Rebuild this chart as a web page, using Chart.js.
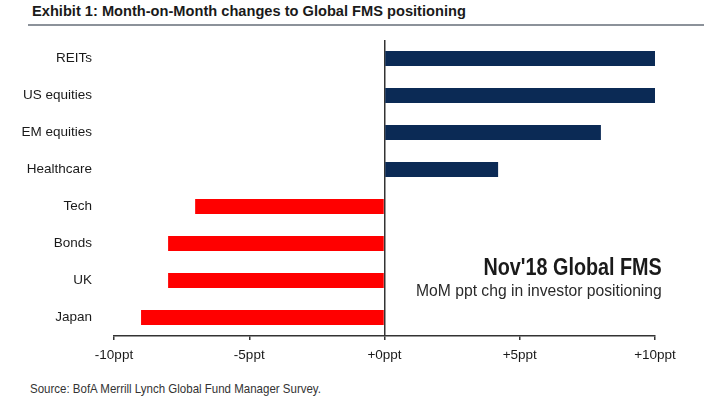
<!DOCTYPE html>
<html lang="en">
<head>
  <meta charset="UTF-8">
  <title>Month-on-Month changes to Global FMS positioning</title>
  <script src="https://cdn.jsdelivr.net/npm/chart.js"></script>
  <style>
    body {
      margin: 0;
      width: 711px;
      height: 399px;
      position: relative;
      background: #fff;
      font-family: "Liberation Sans", Arial, sans-serif;
      color: #1a1a1a;
      overflow: hidden;
    }
    #title {
      position: absolute;
      left: 32px;
      top: 2px;
      font-size: 15px;
      font-weight: bold;
      white-space: nowrap;
      transform: scaleX(0.975);
      transform-origin: left center;
    }
    #rule {
      position: absolute;
      left: 28px;
      top: 24px;
      width: 676px;
      height: 2px;
      background: #8c929a;
    }
    #chartBox {
      position: absolute;
      left: 0;
      top: 0;
      width: 711px;
      height: 366px;
    }
    #note {
      position: absolute;
      right: 49px;
      top: 254px;
      text-align: right;
      white-space: nowrap;
    }
    #note .big {
      font-size: 23px; font-weight: bold; line-height: 26px;
      transform: scaleX(0.86); transform-origin: right center;
    }
    #note .small {
      font-size: 16px; line-height: 22px; color: #2a2a2a;
      transform: scaleX(0.98); transform-origin: right center;
    }
    #source {
      position: absolute;
      left: 30px;
      top: 381px;
      font-size: 13px;
      color: #333;
      white-space: nowrap;
      transform: scaleX(0.885);
      transform-origin: left center;
    }
  </style>
</head>
<body>
  <div id="title">Exhibit 1: Month-on-Month changes to Global FMS positioning</div>
  <div id="rule"></div>
  <div id="chartBox"><canvas id="fmsChart"></canvas></div>
  <div id="note">
    <div class="big">Nov'18 Global FMS</div>
    <div class="small">MoM ppt chg in investor positioning</div>
  </div>
  <div id="source">Source: BofA Merrill Lynch Global Fund Manager Survey.</div>

  <script>
    // Chart data
    const categories = ["REITs", "US equities", "EM equities", "Healthcare", "Tech", "Bonds", "UK", "Japan"];
    const momChange = [10, 10, 8, 4.2, -7, -8, -8, -9];
    const xTicks = [-10, -5, 0, 5, 10];

    const fontFamily = '"Liberation Sans", Arial, sans-serif';

    const ctx = document.getElementById("fmsChart").getContext("2d");
    new Chart(ctx, {
      type: "bar",
      data: {
        labels: categories,
        datasets: [{
          data: momChange,
          backgroundColor: c => c.raw >= 0 ? "#0b2a55" : "#ff0000",
          barPercentage: 0.4,
          categoryPercentage: 1
        }]
      },
      options: {
        indexAxis: "y",
        responsive: true,
        maintainAspectRatio: false,
        animation: false,
        layout: { padding: { top: 40, right: 56, left: 0, bottom: 0 } },
        plugins: {
          legend: { display: false },
          tooltip: { enabled: false }
        },
        scales: {
          x: {
            min: xTicks[0],
            max: xTicks[xTicks.length - 1],
            afterBuildTicks: axis => { axis.ticks = xTicks.map(v => ({ value: v })); },
            afterFit: axis => { axis.height = 30; },
            grid: {
              color: c => c.tick && c.tick.value === 0 ? "#333" : "rgba(0,0,0,0)",
              lineWidth: 1.5,
              tickColor: "#333",
              tickLength: 4
            },
            border: { color: "#333", width: 1.5 },
            ticks: {
              padding: 7,
              color: "#1a1a1a",
              font: { family: fontFamily, size: 13.5 },
              callback: v => (v >= 0 ? "+" : "") + v + "ppt"
            }
          },
          y: {
            afterFit: axis => { axis.width = 114; },
            grid: { display: false },
            border: { display: false },
            ticks: {
              padding: 14,
              color: "#1a1a1a",
              font: { family: fontFamily, size: 13.5 }
            }
          }
        }
      }
    });
  </script>
</body>
</html>
